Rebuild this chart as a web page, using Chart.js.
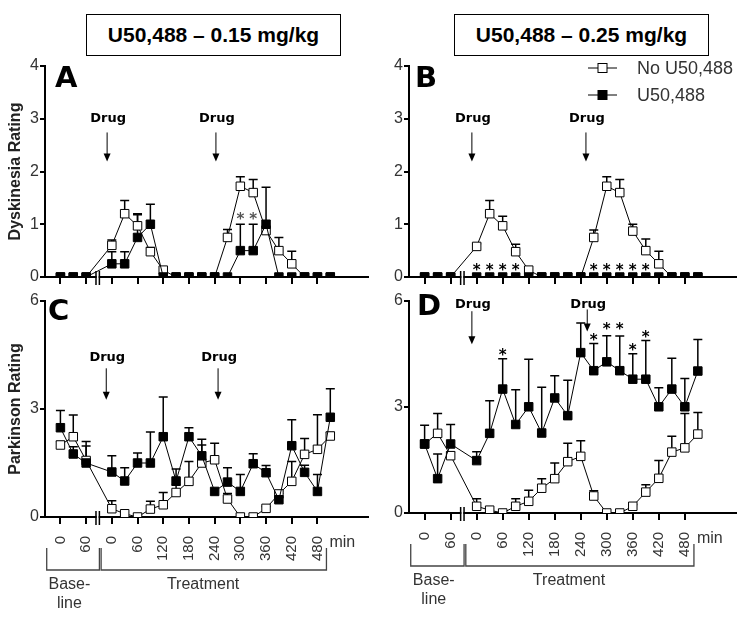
<!DOCTYPE html>
<html>
<head>
<meta charset="utf-8">
<script src="https://cdn.jsdelivr.net/npm/chart.js@4.4.1/dist/chart.umd.min.js"></script>
<style>
  body { margin: 0; background: #fff; }
  #wrap { position: relative; width: 750px; height: 621px; overflow: hidden; font-family: 'Liberation Sans', Arial, sans-serif; }
  canvas { position: absolute; }
  .title { position: absolute; top: 14px; width: 253px; height: 40px; border: 1.5px solid #000;
           font-weight: bold; font-size: 21px; line-height: 40px; text-align: center; color: #000; }
</style>
</head>
<body>
<div id="wrap">
  <div class="title" style="left:86px">U50,488 – 0.15 mg/kg</div>
  <div class="title" style="left:454px">U50,488 – 0.25 mg/kg</div>
  <canvas id="chartA" width="375" height="250" style="left:0;top:40px"></canvas>
  <canvas id="chartB" width="375" height="250" style="left:375px;top:40px"></canvas>
  <canvas id="chartC" width="375" height="331" style="left:0;top:290px"></canvas>
  <canvas id="chartD" width="375" height="331" style="left:375px;top:290px"></canvas>
</div>
<script>
// time points (min): 3 baseline samples, then 18 treatment samples
const baselineMin = [0, 30, 60];
const treatmentMin = [0, 30, 60, 90, 120, 150, 180, 210, 240, 270, 300, 330, 360, 390, 420, 450, 480, 510];
const baselineTicks = [0, 60];
const treatmentTicks = [0, 60, 120, 180, 240, 300, 360, 420, 480];

// A - dyskinesia, 0.15 mg/kg
const dysA_none    = [0, 0, 0, 0.6, 1.2, 0.97, 0.48, 0.13, 0, 0, 0, 0, 0.75, 1.72, 1.6, 0.88, 0.5, 0.25, 0, 0, 0];
const dysA_noneErr = [0, 0, 0, 0.1, 0.25, 0.23, 0.08, 0, 0, 0, 0, 0, 0.15, 0.18, 0.25, 0.08, 0.25, 0.24, 0, 0, 0];
const dysA_u50     = [0, 0, 0, 0.25, 0.25, 0.75, 1.0, 0, 0, 0, 0, 0, 0, 0.5, 0.5, 1.0, 0, 0, 0, 0, 0];
const dysA_u50Err  = [0, 0, 0, 0.23, 0.23, 0.43, 0.38, 0, 0, 0, 0, 0, 0, 0.5, 0.5, 0.7, 0, 0, 0, 0, 0];

// B - dyskinesia, 0.25 mg/kg
const dysB_none    = [0, 0, 0, 0.58, 1.2, 0.97, 0.48, 0.13, 0, 0, 0, 0, 0.75, 1.72, 1.6, 0.87, 0.5, 0.25, 0, 0, 0];
const dysB_noneErr = [0, 0, 0, 0.05, 0.25, 0.18, 0.14, 0, 0, 0, 0, 0, 0.14, 0.18, 0.25, 0.13, 0.22, 0.24, 0, 0, 0];
const dysB_u50     = [0, 0, 0, 0, 0, 0, 0, 0, 0, 0, 0, 0, 0, 0, 0, 0, 0, 0, 0, 0, 0];
const dysB_u50Err  = [0, 0, 0, 0, 0, 0, 0, 0, 0, 0, 0, 0, 0, 0, 0, 0, 0, 0, 0, 0, 0];

// C - parkinson, 0.15 mg/kg
const parC_none    = [2.0, 2.23, 1.57, 0.23, 0.09, 0, 0.22, 0.34, 0.68, 0.99, 1.5, 1.59, 0.5, 0, 0, 0.24, 0.64, 0.99, 1.74, 1.88, 2.25];
const parC_noneErr = [0.1, 0.6, 0.4, 0.22, 0, 0, 0.22, 0.34, 0.2, 0.55, 0.5, 0.46, 0.15, 0, 0, 0.05, 0.08, 0.55, 0.44, 0.96, 0.1];
const parC_u50     = [2.48, 1.75, 1.5, 1.25, 1.0, 1.5, 1.5, 2.23, 1.0, 2.23, 1.7, 0.71, 0.97, 0.71, 1.48, 1.23, 0.48, 1.98, 1.24, 0.71, 2.77];
const parC_u50Err  = [0.48, 0.2, 0.6, 0.45, 0.37, 0.28, 0.86, 1.1, 0.33, 0.25, 0.46, 0, 0.4, 0.47, 0.28, 0.2, 0.18, 0.72, 0.2, 0.47, 0.79];

// D - parkinson, 0.25 mg/kg
const parD_none    = [1.95, 2.25, 1.62, 0.19, 0.08, 0, 0.19, 0.33, 0.7, 0.97, 1.45, 1.6, 0.48, 0, 0, 0.19, 0.59, 0.98, 1.72, 1.84, 2.23];
const parD_noneErr = [0.1, 0.56, 0.1, 0.21, 0, 0, 0.21, 0.31, 0.27, 0.44, 0.52, 0.44, 0.15, 0, 0, 0.05, 0.21, 0.5, 0.45, 0.97, 0.61];
const parD_u50     = [1.95, 0.97, 1.95, 1.48, 2.25, 3.5, 2.5, 3.0, 2.26, 3.25, 2.75, 4.53, 4.02, 4.27, 4.02, 3.78, 3.78, 3.0, 3.5, 3.0, 4.01];
const parD_u50Err  = [0.53, 0.7, 0.55, 0.25, 0.92, 0.86, 0.98, 1.34, 1.29, 0.63, 1.0, 0.84, 0.77, 0.74, 0.98, 0.72, 1.09, 0.54, 0.87, 0.8, 0.89];

// significance stars (treatment min, rating)
const sigA_min = [300, 330];
const sigA_y   = [1.18, 1.18];
const sigB_min = [0, 30, 60, 90, 270, 300, 330, 360, 390];
const sigB_y   = [0.2, 0.2, 0.2, 0.2, 0.2, 0.2, 0.2, 0.2, 0.2];
const sigD_min = [60, 270, 300, 330, 360, 390];
const sigD_y   = [4.59, 5.01, 5.3, 5.3, 4.73, 5.09];

// treatment minutes sit 120 units right of baseline 0 on the shared axis
const TREAT_OFFSET = 120;
const xs = baselineMin.concat(treatmentMin.map(t => t + TREAT_OFFSET));
const tickValues = baselineTicks.concat(treatmentTicks.map(t => t + TREAT_OFFSET));
const tickLabels = baselineTicks.concat(treatmentTicks).map(String);

Chart.defaults.font.family = "'Liberation Sans', Arial, sans-serif";
Chart.defaults.color = '#333';

const pts = vals => vals.map((v, i) => ({ x: xs[i], y: v }));

const errorBars = {
    id: 'errorBars',
    beforeDatasetsDraw(chart) {
        const { ctx, scales: { x, y } } = chart;
        ctx.save();
        ctx.strokeStyle = '#000';
        ctx.lineWidth = 1.5;
        chart.data.datasets.forEach(ds => {
            ds.data.forEach((p, i) => {
                const e = ds.errors[i];
                if (!e) return;
                const px = x.getPixelForValue(p.x);
                const y0 = y.getPixelForValue(p.y);
                const y1 = y.getPixelForValue(p.y + e);
                ctx.beginPath();
                ctx.moveTo(px, y0);
                ctx.lineTo(px, y1);
                ctx.moveTo(px - 4.5, y1);
                ctx.lineTo(px + 4.5, y1);
                ctx.stroke();
            });
        });
        ctx.restore();
    }
};

function drawSquare(ctx, cx, cy, filled) {
    ctx.fillStyle = filled ? '#000' : '#fff';
    ctx.fillRect(cx - 4.5, cy - 4.5, 9, 9);
    ctx.strokeStyle = '#000';
    ctx.lineWidth = 1;
    ctx.strokeRect(cx - 4.5, cy - 4.5, 9, 9);
}

function annotations(o) {
    return {
        id: 'annot',
        afterDraw(chart) {
            const { ctx, chartArea: area, scales: { x, y } } = chart;
            ctx.save();

            // panel letter
            ctx.fillStyle = '#000';
            ctx.font = "bold 29px 'DejaVu Sans'";
            ctx.textAlign = 'left';
            ctx.textBaseline = 'alphabetic';
            ctx.fillText(o.letter, area.left + o.letterPos[0], area.top + o.letterPos[1]);

            // axis break
            const bx = x.getPixelForValue(87);
            ctx.fillStyle = '#fff';
            ctx.fillRect(bx - 1, area.bottom - 2, 2, 4);
            ctx.strokeStyle = '#000';
            ctx.lineWidth = 1.5;
            ctx.beginPath();
            [-1.7, 1.7].forEach(d => {
                ctx.moveTo(bx + d, area.bottom - 6);
                ctx.lineTo(bx + d, area.bottom + 8);
            });
            ctx.stroke();

            // drug arrows
            o.arrows.forEach(a => {
                const ax = x.getPixelForValue(a.x);
                const yTop = y.getPixelForValue(a.top);
                const yTip = y.getPixelForValue(a.tip);
                ctx.fillStyle = '#000';
                ctx.font = "bold 13px 'DejaVu Sans'";
                ctx.textAlign = 'center';
                ctx.textBaseline = 'middle';
                ctx.fillText('Drug', ax + 1, y.getPixelForValue(a.text));
                ctx.lineWidth = 1;
                ctx.beginPath();
                ctx.moveTo(ax, yTop);
                ctx.lineTo(ax, yTip - 6);
                ctx.stroke();
                ctx.beginPath();
                ctx.moveTo(ax - 3.5, yTip - 8);
                ctx.lineTo(ax + 3.5, yTip - 8);
                ctx.lineTo(ax, yTip);
                ctx.closePath();
                ctx.fill();
            });

            // significance stars
            ctx.fillStyle = o.starColor;
            ctx.font = "bold 15px 'DejaVu Sans'";
            ctx.textAlign = 'center';
            ctx.textBaseline = 'alphabetic';
            o.starMin.forEach((m, i) => {
                ctx.fillText('*', x.getPixelForValue(m + TREAT_OFFSET), y.getPixelForValue(o.starY[i]) + 9);
            });

            // legend
            if (o.legend) {
                const rows = [['No U50,488', false], ['U50,488', true]];
                rows.forEach((r, i) => {
                    const ly = 28 + i * 27;
                    ctx.strokeStyle = '#000';
                    ctx.lineWidth = 1;
                    ctx.beginPath();
                    ctx.moveTo(213, ly);
                    ctx.lineTo(242, ly);
                    ctx.stroke();
                    drawSquare(ctx, 227.5, ly, r[1]);
                    ctx.fillStyle = '#333';
                    ctx.font = "18px 'Liberation Sans', Arial, sans-serif";
                    ctx.textAlign = 'left';
                    ctx.textBaseline = 'middle';
                    ctx.fillText(r[0], 262, ly + 1);
                });
            }

            // time brackets under the axis
            if (o.brackets) {
                const b = area.bottom;
                ctx.strokeStyle = '#444';
                ctx.lineWidth = 1.3;
                [[-32, 91], [95, 621]].forEach(([l, r]) => {
                    const xl = x.getPixelForValue(l), xr = x.getPixelForValue(r);
                    ctx.beginPath();
                    ctx.moveTo(xl, b + 31);
                    ctx.lineTo(xl, b + 53);
                    ctx.lineTo(xr, b + 53);
                    ctx.lineTo(xr, b + 31);
                    ctx.stroke();
                });
                ctx.fillStyle = '#333';
                ctx.font = "16px 'Liberation Sans', Arial, sans-serif";
                ctx.textAlign = 'center';
                ctx.textBaseline = 'middle';
                ctx.fillText('Base-', x.getPixelForValue(21), b + 68);
                ctx.fillText('line', x.getPixelForValue(21), b + 87);
                ctx.fillText('Treatment', x.getPixelForValue(333), b + 68);
                ctx.textAlign = 'left';
                ctx.fillText('min', x.getPixelForValue(628), b + 26);
            }
            ctx.restore();
        }
    };
}

function makePanel(id, o) {
    const common = { borderColor: '#000', borderWidth: 1, pointStyle: 'rect', pointRadius: 6,
                     pointBorderWidth: 1, pointBorderColor: '#000', fill: false, tension: 0 };
    return new Chart(document.getElementById(id), {
        type: 'line',
        data: {
            datasets: [
                Object.assign({ label: 'U50,488', data: pts(o.u50), errors: o.u50Err,
                                pointBackgroundColor: '#000', backgroundColor: '#000' }, common),
                Object.assign({ label: 'No U50,488', data: pts(o.none), errors: o.noneErr,
                                pointBackgroundColor: '#fff', backgroundColor: '#fff' }, common)
            ]
        },
        options: {
            responsive: false,
            animation: false,
            layout: { padding: { left: 0, top: o.padTop, right: o.padRight, bottom: 0 } },
            plugins: { legend: { display: false }, tooltip: { enabled: false } },
            scales: {
                x: {
                    type: 'linear', min: -36, max: 718,
                    afterBuildTicks: s => { s.ticks = tickValues.map(v => ({ value: v })); },
                    afterFit: s => { s.height = o.xHeight; },
                    grid: { drawOnChartArea: false, drawTicks: true, tickLength: 7, color: '#000', lineWidth: 2 },
                    border: { display: true, color: '#000', width: 2 },
                    ticks: {
                        display: o.xLabels, autoSkip: false, minRotation: 90, maxRotation: 90,
                        padding: 12, color: '#333', font: { size: 15 },
                        callback: (v, i) => tickLabels[i]
                    }
                },
                y: {
                    min: 0, max: o.yMax,
                    afterFit: s => { s.width = o.yWidth; },
                    grid: { drawOnChartArea: false, drawTicks: true, tickLength: 5, color: '#000', lineWidth: 2 },
                    border: { display: true, color: '#000', width: 2 },
                    ticks: { stepSize: o.yStep, padding: 1, color: '#333', font: { size: 16 } },
                    title: {
                        display: !!o.yTitle, text: o.yTitle || '', color: '#222',
                        font: { size: 16, weight: 'bold' }, padding: { top: 6, bottom: 0 }
                    }
                }
            }
        },
        plugins: [errorBars, annotations(o)]
    });
}

makePanel('chartA', {
    none: dysA_none, noneErr: dysA_noneErr, u50: dysA_u50, u50Err: dysA_u50Err,
    yMax: 4, yStep: 1, yTitle: 'Dyskinesia Rating', yWidth: 45, padTop: 26, padRight: 3, xHeight: 13, xLabels: false,
    letter: 'A', letterPos: [10, 21], starColor: '#555', starMin: sigA_min, starY: sigA_y,
    arrows: [{ x: 109, text: 3.0, top: 2.74, tip: 2.19 }, { x: 363, text: 3.0, top: 2.74, tip: 2.19 }]
});

makePanel('chartB', {
    none: dysB_none, noneErr: dysB_noneErr, u50: dysB_u50, u50Err: dysB_u50Err,
    yMax: 4, yStep: 1, yTitle: null, yWidth: 34, padTop: 26, padRight: 14, xHeight: 13, xLabels: false,
    letter: 'B', letterPos: [6, 21], starColor: '#000', starMin: sigB_min, starY: sigB_y, legend: true,
    arrows: [{ x: 109, text: 3.0, top: 2.74, tip: 2.19 }, { x: 372, text: 3.0, top: 2.74, tip: 2.19 }]
});

makePanel('chartC', {
    none: parC_none, noneErr: parC_noneErr, u50: parC_u50, u50Err: parC_u50Err,
    yMax: 6, yStep: 3, yTitle: 'Parkinson Rating', yWidth: 45, padTop: 11, padRight: 3, xHeight: 104, xLabels: true,
    letter: 'C', letterPos: [3, 19], starColor: '#000', starMin: [], starY: [], brackets: true,
    arrows: [{ x: 107, text: 4.44, top: 4.13, tip: 3.26 }, { x: 368, text: 4.44, top: 4.13, tip: 3.26 }]
});

makePanel('chartD', {
    none: parD_none, noneErr: parD_noneErr, u50: parD_u50, u50Err: parD_u50Err,
    yMax: 6, yStep: 3, yTitle: null, yWidth: 34, padTop: 8, padRight: 14, xHeight: 108, xLabels: true,
    letter: 'D', letterPos: [8, 14], starColor: '#000', starMin: sigD_min, starY: sigD_y, brackets: true,
    arrows: [{ x: 109, text: 5.9, top: 5.7, tip: 4.77 }, { x: 375, text: 5.9, top: 5.75, tip: 5.13 }]
});
</script>
</body>
</html>
